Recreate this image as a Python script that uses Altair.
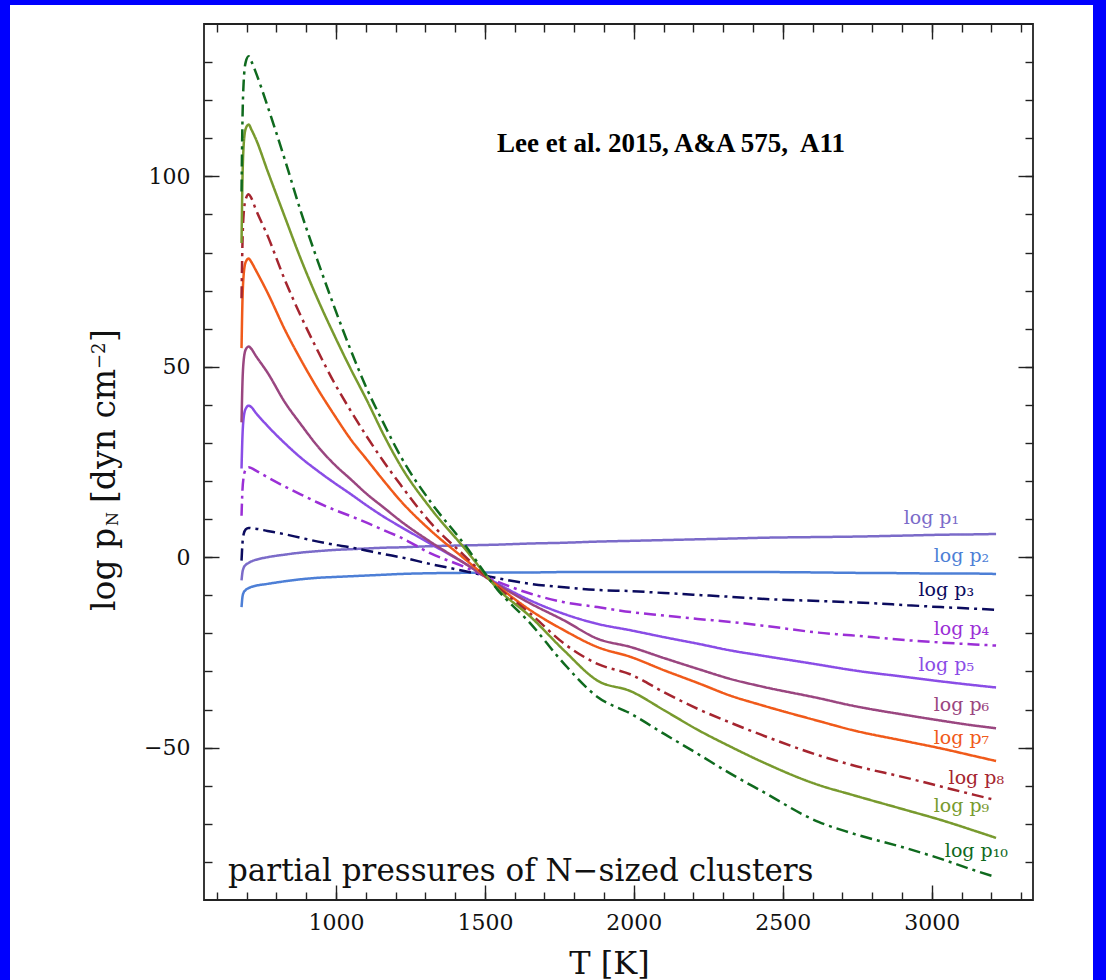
import altair as alt
import pandas as pd

# ---------------- data ----------------
T = [683, 686, 690, 697, 707, 716, 730, 770, 830, 881, 940, 993, 1049, 1105, 1161, 1217,
     1318, 1430, 1542, 1654, 1766, 1878, 1990, 2102, 2214, 2326, 2427, 2620, 2729, 2919,
     3031, 3143, 3216]

P1 = [-6.1, -4.0, -2.8, -2.0, -1.5, -1.1, -0.7, 0.0, 0.7, 1.2, 1.6, 1.9, 2.1, 2.3, 2.5, 2.6,
      2.9, 3.1, 3.3, 3.6, 3.8, 4.1, 4.3, 4.5, 4.7, 4.9, 5.1, 5.3, 5.4, 5.7, 5.9, 6.0, 6.1]
P2 = [-13.1, -10.5, -9.3, -8.6, -8.1, -7.8, -7.5, -7.0, -6.3, -5.8, -5.4, -5.2, -5.0, -4.8, -4.6, -4.4,
      -4.2, -4.1, -4.0, -4.0, -3.9, -3.9, -3.9, -3.9, -3.9, -3.9, -3.9, -4.0, -4.1, -4.2, -4.3, -4.3, -4.4]
P3 = [-0.9, 3.5, 6.0, 7.3, 7.7, 7.6, 7.5, 6.9, 6.0, 5.1, 4.1, 3.3, 2.6, 1.7, 0.8, 0.0,
      -1.8, -3.6, -5.5, -7.0, -7.9, -8.6, -8.9, -9.4, -9.9, -10.4, -10.9, -11.5, -11.8, -12.6, -13.1, -13.5, -13.8]
P4 = [10.9, 17.5, 21.0, 23.0, 23.6, 23.4, 22.8, 21.0, 18.5, 16.5, 14.3, 12.5, 10.8, 9.0, 7.1, 5.2,
      1.0, -2.5, -6.4, -9.6, -11.8, -13.1, -14.4, -15.3, -16.2, -17.0, -17.9, -19.8, -20.5, -21.8, -22.4, -22.9, -23.2]
P5 = [23.3, 31.5, 36.5, 39.0, 39.8, 39.4, 38.0, 34.5, 29.8, 26.2, 22.6, 19.6, 16.6, 13.5, 10.6, 8.0,
      3.5, -1.5, -6.9, -11.4, -14.9, -17.5, -19.2, -21.0, -22.7, -24.5, -25.8, -28.2, -29.6, -31.5, -32.6, -33.6, -34.2]
P6 = [35.4, 45.5, 51.5, 54.5, 55.3, 54.7, 53.0, 48.5, 40.5, 35.0, 29.0, 24.5, 20.5, 16.5, 13.0, 9.5,
      4.0, -1.5, -7.2, -12.2, -16.6, -21.4, -23.6, -26.5, -29.3, -32.0, -33.9, -37.0, -38.9, -41.5, -42.9, -44.2, -44.9]
P7 = [54.9, 67.0, 74.0, 77.5, 78.4, 77.5, 75.5, 69.5, 59.5, 52.0, 44.0, 37.5, 31.0, 25.5, 20.0, 14.8,
      7.0, -0.3, -7.5, -14.0, -19.2, -23.6, -26.2, -29.7, -33.0, -36.4, -38.8, -43.0, -45.3, -48.4, -50.2, -52.2, -53.5]
P8 = [68.0, 82.0, 90.0, 94.0, 95.3, 94.3, 91.5, 84.5, 72.5, 63.5, 54.0, 46.0, 38.5, 31.5, 25.0, 19.0,
      9.0, 0.5, -7.8, -14.9, -22.7, -28.0, -30.8, -35.5, -39.8, -43.5, -46.6, -52.0, -54.5, -58.0, -60.2, -62.4, -63.8]
P9 = [82.5, 98.5, 108.0, 112.5, 113.6, 112.3, 110.0, 101.5, 89.0, 78.5, 67.5, 58.5, 49.5, 41.0, 32.0, 24.0,
      12.8, 2.5, -8.2, -15.7, -24.5, -32.4, -35.2, -40.2, -45.3, -49.8, -53.6, -59.8, -62.3, -66.5, -69.0, -71.8, -73.7]
P10 = [96.0, 114.0, 124.5, 130.0, 131.5, 130.2, 127.5, 118.5, 104.0, 91.0, 77.5, 66.0, 54.5, 44.0, 35.0, 26.5,
       14.5, 3.5, -8.5, -17.5, -28.0, -36.7, -41.1, -46.4, -51.6, -56.9, -61.3, -69.5, -72.4, -76.5, -79.2, -82.2, -84.0]

SERIES = ["p1", "p2", "p3", "p4", "p5", "p6", "p7", "p8", "p9", "p10"]
VALUES = [P1, P2, P3, P4, P5, P6, P7, P8, P9, P10]
COLORS = ["#7b6bc9", "#4d7fd6", "#0b0b5e", "#9b2fd6", "#8a4de6",
          "#9a4680", "#f05a1a", "#a5252f", "#789a2e", "#0f6a1e"]
DASHED = [False, False, True, True, False, False, False, True, False, True]

LABEL_TEXT = ["log p\u2081", "log p\u2082", "log p\u2083", "log p\u2084", "log p\u2085",
              "log p\u2086", "log p\u2087", "log p\u2088", "log p\u2089", "log p\u2081\u2080"]
LABEL_T = [3092, 3193, 3142, 3193, 3142, 3193, 3193, 3243, 3193, 3256]
LABEL_Y = [8.85, -1.15, -10.3, -20.3, -30.0, -40.5, -49.1, -59.6, -67.0, -78.6]

X_MAJOR = [1000, 1500, 2000, 2500, 3000]
X_MINOR = list(range(600, 3301, 100))
Y_MAJOR = [-50, 0, 50, 100]
Y_MINOR = list(range(-80, 131, 10))
X_DOMAIN = [557, 3340]
Y_DOMAIN = [-90, 140]

# ---------------- tables ----------------
for v in VALUES:
    assert len(v) == len(T)

rows = []
for name, vals in zip(SERIES, VALUES):
    for t, val in zip(T, vals):
        rows.append({"T": t, "logp": val, "series": name})
df = pd.DataFrame(rows)

labdf = pd.DataFrame({"T": LABEL_T, "y": LABEL_Y, "text": LABEL_TEXT, "series": SERIES})
one = pd.DataFrame({"k": [0]})
axdf = pd.DataFrame({"T": [X_MAJOR[0]], "v": [Y_MAJOR[0]]})

DASHES = [[12, 5, 3, 5] if d else [1, 0] for d in DASHED]

xs = alt.Scale(domain=X_DOMAIN, nice=False, zero=False)
ys = alt.Scale(domain=Y_DOMAIN, nice=False, zero=False)
cs = alt.Scale(domain=SERIES, range=COLORS)

SERIF = "DejaVu Serif"
TICK = "#222222"


def tick_axis(orient, values, size):
    return alt.Axis(orient=orient, values=values, tickSize=size, offset=-size,
                    domain=False, grid=False, labels=False, ticks=True,
                    tickColor=TICK, tickWidth=1.4, title=None)


# ---------------- layers ----------------
lines = alt.Chart(df).mark_line(strokeWidth=2.5, interpolate="monotone").encode(
    x=alt.X("T:Q", scale=xs, axis=alt.Axis(
        orient="bottom", values=X_MAJOR, tickSize=15, offset=-15, domain=False, grid=False,
        format="d", labelFont=SERIF, labelFontSize=22, labelColor="#111111", labelPadding=12,
        labelFlush=False, labelOverlap=False, tickColor=TICK, tickWidth=1.4,
        title="T [K]", titleFont=SERIF, titleFontSize=32, titleFontWeight="normal",
        titleColor="#111111", titleX=405, titleY=88, titleBaseline="alphabetic")),
    y=alt.Y("logp:Q", scale=ys, axis=alt.Axis(
        orient="left", values=Y_MAJOR, tickSize=15, offset=-15, domain=False, grid=False,
        format="d", labelFont=SERIF, labelFontSize=22, labelColor="#111111", labelPadding=14,
        labelFlush=False, labelOverlap=False, tickColor=TICK, tickWidth=1.4, title=None)),
    color=alt.Color("series:N", scale=cs, legend=None),
    strokeDash=alt.StrokeDash("series:N", scale=alt.Scale(domain=SERIES, range=DASHES), legend=None),
    order=alt.Order("T:Q"),
)

ax_minor_bl = alt.Chart(axdf).mark_point(opacity=0).encode(
    x=alt.X("T:Q", scale=xs, axis=tick_axis("bottom", X_MINOR, 8)),
    y=alt.Y("v:Q", scale=ys, axis=tick_axis("left", Y_MINOR, 8)),
)
ax_major_tr = alt.Chart(axdf).mark_point(opacity=0).encode(
    x=alt.X("T:Q", scale=xs, axis=tick_axis("top", X_MAJOR, 15)),
    y=alt.Y("v:Q", scale=ys, axis=tick_axis("right", Y_MAJOR, 15)),
)
ax_minor_tr = alt.Chart(axdf).mark_point(opacity=0).encode(
    x=alt.X("T:Q", scale=xs, axis=tick_axis("top", X_MINOR, 8)),
    y=alt.Y("v:Q", scale=ys, axis=tick_axis("right", Y_MINOR, 8)),
)

labels = alt.Chart(labdf).mark_text(
    align="right", baseline="alphabetic", font=SERIF, fontSize=19).encode(
    x=alt.X("T:Q", scale=xs, axis=None),
    y=alt.Y("y:Q", scale=ys, axis=None),
    text="text:N",
    color=alt.Color("series:N", scale=cs, legend=None),
)

# page border (blue frame around the white sheet)
BLUE = "#0000fe"
border_left = alt.Chart(one).mark_rect(color=BLUE).encode(
    x=alt.value(-204), x2=alt.value(-194), y=alt.value(-24), y2=alt.value(956))
border_top = alt.Chart(one).mark_rect(color=BLUE).encode(
    x=alt.value(-204), x2=alt.value(902), y=alt.value(-24), y2=alt.value(-19))
border_right = alt.Chart(one).mark_rect(color=BLUE).encode(
    x=alt.value(889), x2=alt.value(902), y=alt.value(-24), y2=alt.value(956))

citation = alt.Chart(one).mark_text(
    text="Lee et al. 2015, A&A 575,\u00a0 A11", font="Liberation Serif", fontSize=27,
    fontWeight="bold", align="left", baseline="alphabetic", color="#000000").encode(
    x=alt.value(293), y=alt.value(128))

caption = alt.Chart(one).mark_text(
    text="partial pressures of N\u2212sized clusters", font=SERIF, fontSize=31,
    align="left", baseline="alphabetic", color="#111111").encode(
    x=alt.value(24), y=alt.value(857))


def ytitle_piece(text, size, x, y):
    return alt.Chart(one).mark_text(
        text=text, font=SERIF, fontSize=size, angle=270, align="left",
        baseline="alphabetic", color="#111111").encode(x=alt.value(x), y=alt.value(y))


ytitle = [
    ytitle_piece("log p", 33, -89, 587),
    ytitle_piece("N", 16, -86, 502),
    ytitle_piece("[dyn cm", 33, -89, 479),
    ytitle_piece("\u22122", 18, -99, 345),
    ytitle_piece("]", 33, -89, 318),
]

chart = alt.layer(
    border_left, border_top, border_right,
    ax_minor_bl, ax_major_tr, ax_minor_tr,
    lines, labels, citation, caption, *ytitle,
).resolve_scale(
    x="shared", y="shared", color="shared"
).resolve_axis(
    x="independent", y="independent"
).properties(
    width=829, height=876,
    autosize=alt.AutoSizeParams(type="none"),
    padding={"left": 204, "top": 24, "right": 73, "bottom": 80},
    background="#ffffff",
).configure_view(
    stroke="#222222", strokeWidth=1.8
)

chart.save("out.html", embed_options={"renderer": "svg", "actions": False})
